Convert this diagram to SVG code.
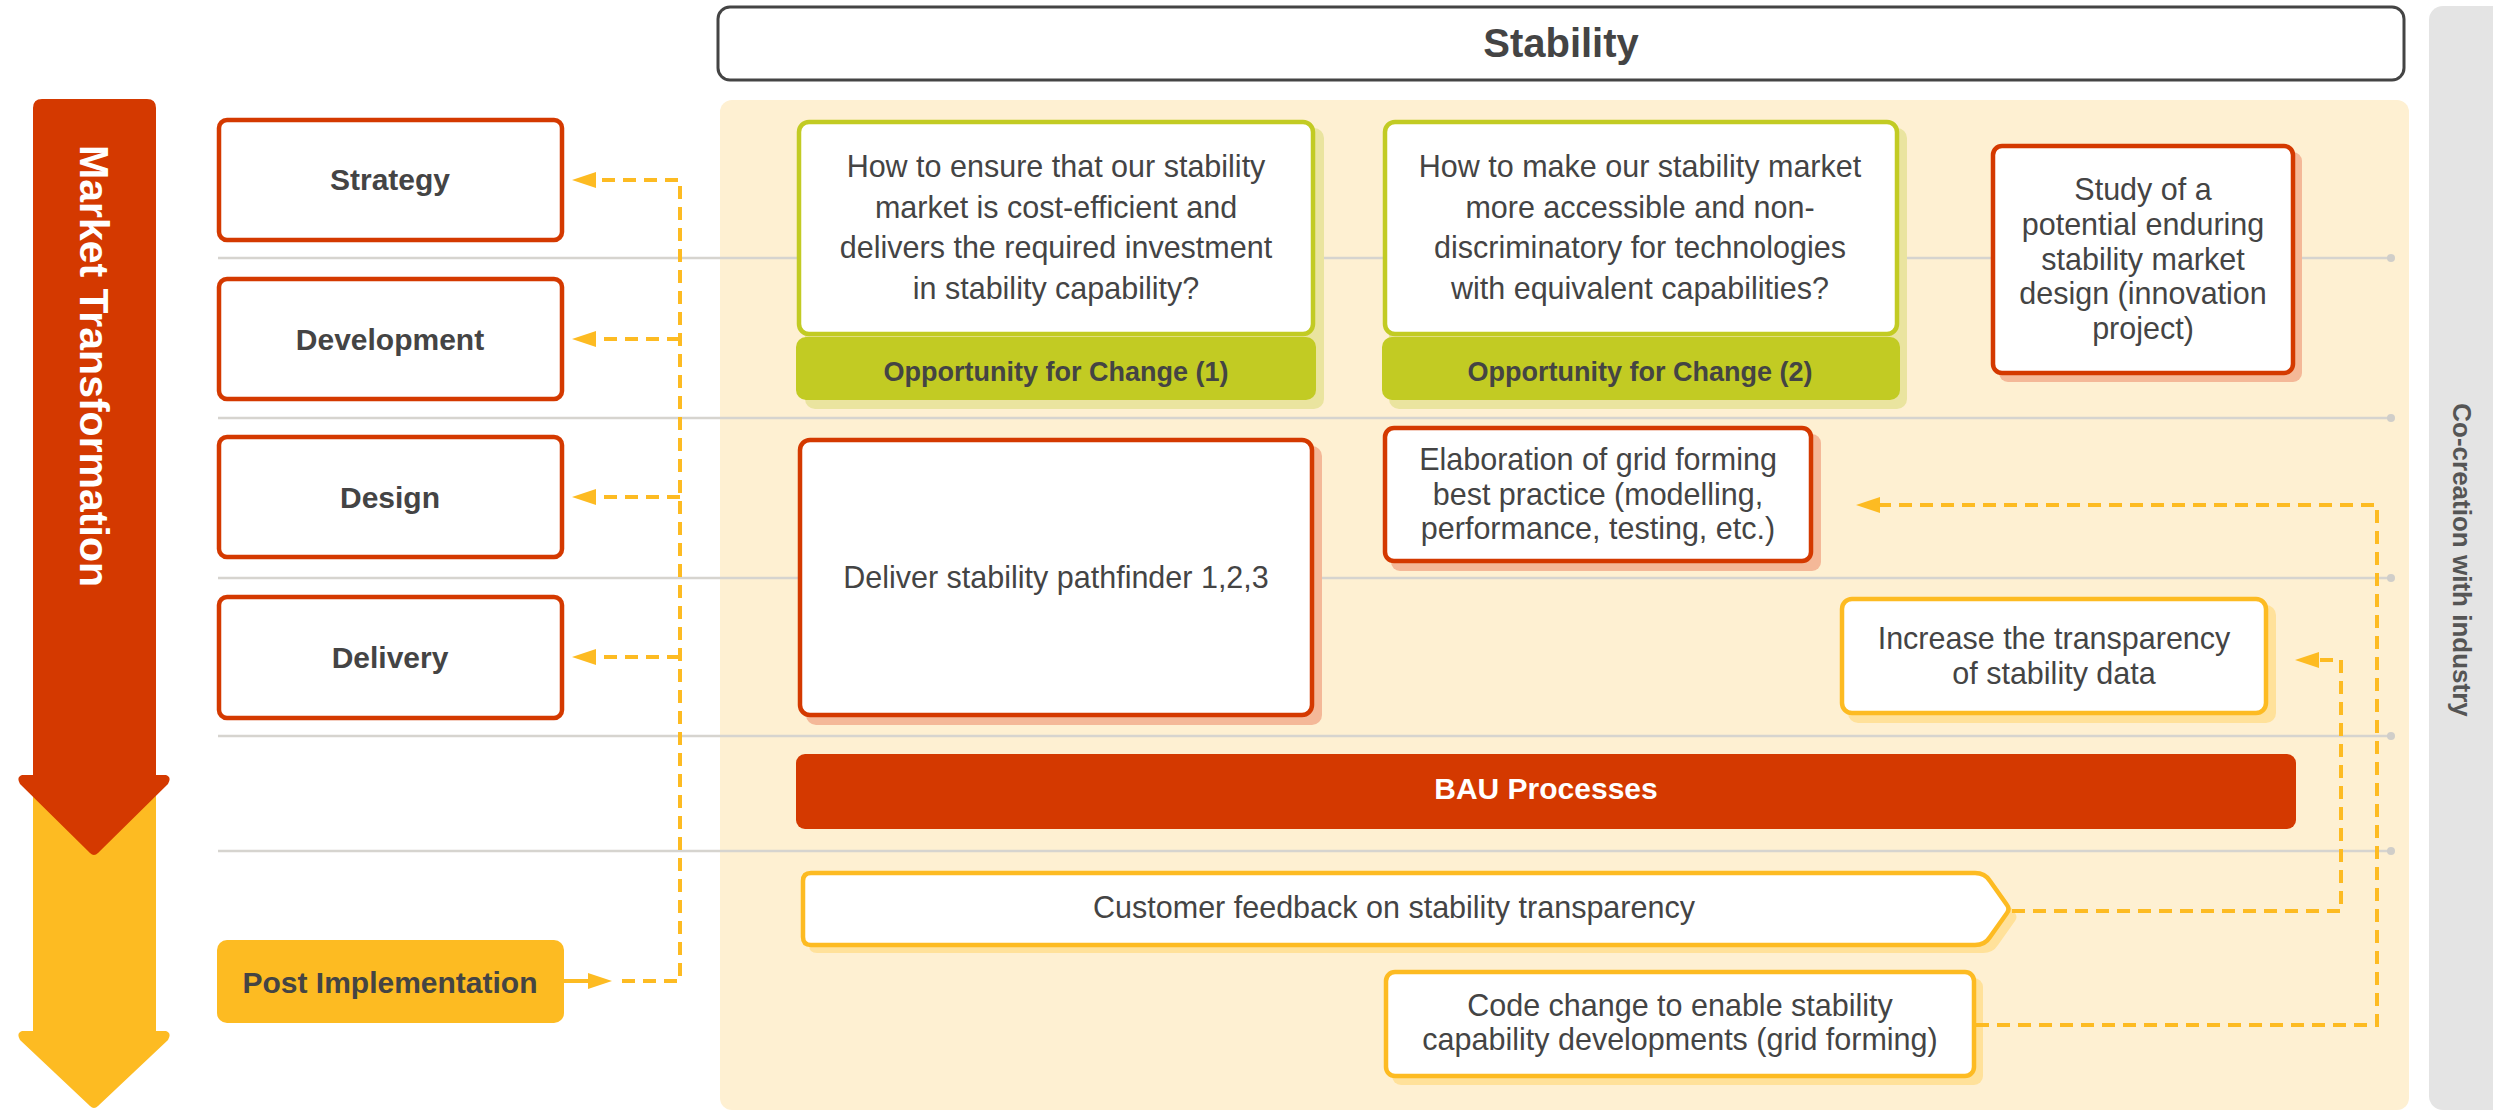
<svg xmlns="http://www.w3.org/2000/svg" width="2493" height="1112" viewBox="0 0 2493 1112">
<style>
text{font-family:"Liberation Sans",Arial,Helvetica,sans-serif;fill:#444}
.b{font-weight:bold}
.lbl{font-size:30px;font-weight:bold;text-anchor:middle}
.t{font-size:30.5px;text-anchor:middle}
.opp{font-size:27px;font-weight:bold;text-anchor:middle}
.red{fill:#fff;stroke:#D43900;stroke-width:4.5}
.grn{fill:#fff;stroke:#C2CB23;stroke-width:4.5}
.yel{fill:#fff;stroke:#FDBB22;stroke-width:4.5}
.shr{fill:#F4B898}
.shg{fill:#EAE49F}
.shy{fill:#FFE19A}
.grid{stroke:#D6D4CF;stroke-width:2.5}
.dot{fill:#D0CEC9}
.dash{fill:none;stroke:#FDBB22;stroke-width:4;stroke-dasharray:13 8}
</style>
<defs>
<marker id="ah" markerUnits="userSpaceOnUse" markerWidth="24" markerHeight="16" refX="0" refY="8" orient="auto">
<path d="M0 0 L24 8 L0 16 Z" fill="#FDBB22"/>
</marker>
</defs>
<!-- backgrounds -->
<rect x="720" y="100" width="1689" height="1010" rx="12" fill="#FEF0D2"/>
<rect x="2429" y="6" width="100" height="1104" rx="14" fill="#E4E4E4"/>
<text class="b" transform="translate(2453,560) rotate(90)" font-size="26" text-anchor="middle" style="fill:#555">Co-creation with industry</text>
<!-- grid lines -->
<g id="grid">
<line class="grid" x1="218" y1="258" x2="2391" y2="258"/><circle class="dot" cx="2391" cy="258" r="4"/>
<line class="grid" x1="218" y1="418" x2="2391" y2="418"/><circle class="dot" cx="2391" cy="418" r="4"/>
<line class="grid" x1="218" y1="578" x2="2391" y2="578"/><circle class="dot" cx="2391" cy="578" r="4"/>
<line class="grid" x1="218" y1="736" x2="2391" y2="736"/><circle class="dot" cx="2391" cy="736" r="4"/>
<line class="grid" x1="218" y1="851" x2="2391" y2="851"/><circle class="dot" cx="2391" cy="851" r="4"/>
</g>
<!-- big arrow -->
<g id="market-transformation">
<path d="M33 790 H156 V1031 H166 Q172 1033 168 1040 L98 1106 Q94 1110 90 1106 L20 1040 Q16 1033 22 1031 H33 Z" fill="#FDBB22"/>
<path d="M42 99 H147 Q156 99 156 108 V775 H166 Q172 777 168 784 L98 853 Q94 857 90 853 L20 784 Q16 777 22 775 H33 V108 Q33 99 42 99 Z" fill="#D43900"/>
<text class="b" transform="translate(80,366) rotate(90)" font-size="41" text-anchor="middle" style="fill:#fff">Market Transformation</text>
</g>
<!-- header -->
<g id="stability">
<rect x="718" y="7" width="1686" height="73" rx="12" fill="#fff" stroke="#444" stroke-width="3"/>
<text class="b" x="1561" y="57" font-size="40" text-anchor="middle">Stability</text>
</g>
<!-- left nodes -->
<g id="strategy"><rect class="red" x="219" y="120" width="343" height="120" rx="8"/><text class="lbl" x="390" y="190">Strategy</text></g>
<g id="development"><rect class="red" x="219" y="279" width="343" height="120" rx="8"/><text class="lbl" x="390" y="350">Development</text></g>
<g id="design"><rect class="red" x="219" y="437" width="343" height="120" rx="8"/><text class="lbl" x="390" y="508">Design</text></g>
<g id="delivery"><rect class="red" x="219" y="597" width="343" height="121" rx="8"/><text class="lbl" x="390" y="668">Delivery</text></g>
<g id="post-implementation"><rect x="217" y="940" width="347" height="83" rx="10" fill="#FDBB22"/><text class="lbl" x="390" y="993">Post Implementation</text></g>
<!-- opportunity 1 -->
<g id="opp1">
<rect class="shg" x="805" y="128" width="519" height="281" rx="10"/>
<rect class="grn" x="799" y="122" width="514" height="212" rx="10"/>
<rect x="796" y="337" width="520" height="63" rx="10" fill="#C2CB23"/>
<text class="t" x="1056" y="177">How to ensure that our stability</text>
<text class="t" x="1056" y="217.5">market is cost-efficient and</text>
<text class="t" x="1056" y="258">delivers the required investment</text>
<text class="t" x="1056" y="298.5">in stability capability?</text>
<text class="opp" x="1056" y="381">Opportunity for Change (1)</text>
</g>
<!-- opportunity 2 -->
<g id="opp2">
<rect class="shg" x="1389" y="128" width="518" height="281" rx="10"/>
<rect class="grn" x="1385" y="122" width="512" height="212" rx="10"/>
<rect x="1382" y="337" width="518" height="63" rx="10" fill="#C2CB23"/>
<text class="t" x="1640" y="177">How to make our stability market</text>
<text class="t" x="1640" y="217.5">more accessible and non-</text>
<text class="t" x="1640" y="258">discriminatory for technologies</text>
<text class="t" x="1640" y="298.5">with equivalent capabilities?</text>
<text class="opp" x="1640" y="381">Opportunity for Change (2)</text>
</g>
<!-- study -->
<g id="study">
<rect class="shr" x="1999" y="152" width="303" height="230" rx="9"/>
<rect class="red" x="1993" y="146" width="300" height="227" rx="9"/>
<text class="t" x="2143" y="200">Study of a</text>
<text class="t" x="2143" y="235">potential enduring</text>
<text class="t" x="2143" y="269.5">stability market</text>
<text class="t" x="2143" y="304">design (innovation</text>
<text class="t" x="2143" y="338.5">project)</text>
</g>
<!-- deliver pathfinder -->
<g id="pathfinder">
<rect class="shr" x="806" y="446" width="516" height="279" rx="10"/>
<rect class="red" x="800" y="440" width="512" height="275" rx="10"/>
<text class="t" x="1056" y="588">Deliver stability pathfinder 1,2,3</text>
</g>
<!-- elaboration -->
<g id="elaboration">
<rect class="shr" x="1391" y="434" width="430" height="137" rx="9"/>
<rect class="red" x="1385" y="428" width="426" height="133" rx="9"/>
<text class="t" x="1598" y="469.5">Elaboration of grid forming</text>
<text class="t" x="1598" y="504.5">best practice (modelling,</text>
<text class="t" x="1598" y="539">performance, testing, etc.)</text>
</g>
<!-- transparency -->
<g id="transparency">
<rect class="shy" x="1848" y="605" width="428" height="118" rx="10"/>
<rect class="yel" x="1842" y="599" width="424" height="114" rx="10"/>
<text class="t" x="2054" y="649">Increase the transparency</text>
<text class="t" x="2054" y="684">of stability data</text>
</g>
<!-- BAU -->
<g id="bau">
<rect x="796" y="754" width="1500" height="75" rx="9" fill="#D43900"/>
<text class="lbl" x="1546" y="799" style="fill:#fff">BAU Processes</text>
</g>
<!-- customer feedback -->
<g id="customer-feedback">
<path class="shy" d="M817 881 H1983 Q1993 881 1998 889 L2015 913 Q2018 917 2015 921 L1998 945 Q1993 953 1983 953 H817 Q809 953 809 945 V889 Q809 881 817 881 Z"/>
<path class="yel" d="M811 873 H1975 Q1985 873 1990 881 L2007 905 Q2010 909 2007 913 L1990 937 Q1985 945 1975 945 H811 Q803 945 803 937 V881 Q803 873 811 873 Z"/>
<text class="t" x="1394" y="918">Customer feedback on stability transparency</text>
</g>
<!-- code change -->
<g id="code-change">
<rect class="shy" x="1392" y="978" width="591" height="107" rx="9"/>
<rect class="yel" x="1386" y="972" width="588" height="104" rx="9"/>
<text class="t" x="1680" y="1016">Code change to enable stability</text>
<text class="t" x="1680" y="1050">capability developments (grid forming)</text>
</g>
<!-- connectors -->
<g id="connectors">
<line x1="564" y1="981" x2="588" y2="981" stroke="#FDBB22" stroke-width="4" marker-end="url(#ah)"/>
<path class="dash" d="M622 981 H680 V180 H596" marker-end="url(#ah)"/>
<path class="dash" d="M680 339 H596" marker-end="url(#ah)"/>
<path class="dash" d="M680 497 H596" marker-end="url(#ah)"/>
<path class="dash" d="M680 657 H596" marker-end="url(#ah)"/>
<path class="dash" d="M2012 911 H2341 V660 H2319" marker-end="url(#ah)"/>
<path class="dash" d="M1976 1025 H2377 V505 H1880" marker-end="url(#ah)"/>
</g>
</svg>
